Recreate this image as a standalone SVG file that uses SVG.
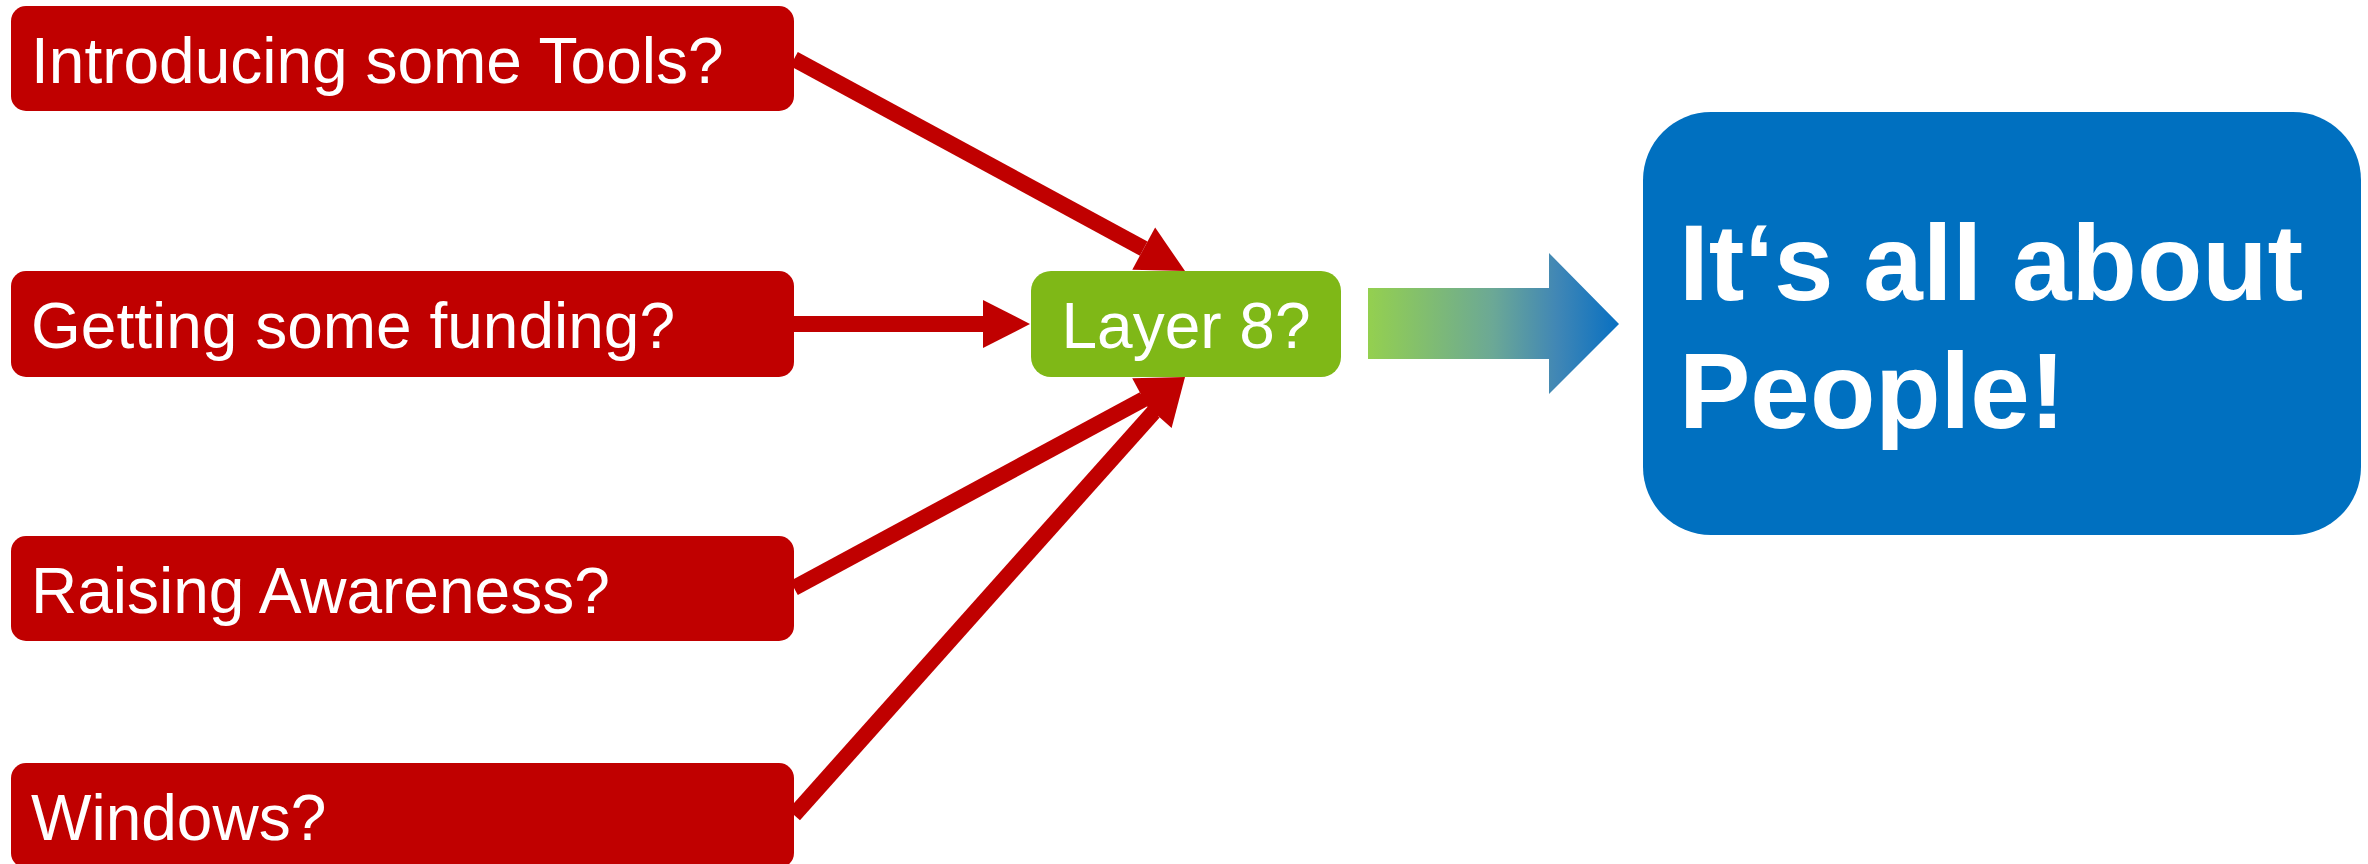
<svg xmlns="http://www.w3.org/2000/svg" width="2368" height="864" viewBox="0 0 2368 864">
  <style>
    .red { fill: #C00000; }
    .lbl { font-family: "Liberation Sans", Arial, sans-serif; font-size: 64px; fill: #FFFFFF; }
    .conn { stroke: #C00000; stroke-width: 16; fill: none; stroke-linecap: butt; }
    .big { font-family: "Liberation Sans", Arial, sans-serif; font-size: 107px; font-weight: bold; fill: #FFFFFF; }
  </style>
  <defs>
    <marker id="ah" markerUnits="userSpaceOnUse" markerWidth="47" markerHeight="48" refX="0" refY="24" orient="auto" overflow="visible">
      <path d="M0,0 L47,24 L0,48 Z" fill="#C00000"/>
    </marker>
    <linearGradient id="grad" gradientUnits="userSpaceOnUse" x1="1368" y1="0" x2="1619" y2="0">
      <stop offset="0" stop-color="#94D04F"/>
      <stop offset="0.5" stop-color="#6BA896"/>
      <stop offset="0.75" stop-color="#4187B5"/>
      <stop offset="1" stop-color="#0870C2"/>
    </linearGradient>
  </defs>
  <rect width="2368" height="864" fill="#FFFFFF"/>

  <g id="connectors">
    <line class="conn" x1="794" y1="59" x2="1143.7" y2="248.6" marker-end="url(#ah)"/>
    <line class="conn" x1="794" y1="324" x2="983" y2="324" marker-end="url(#ah)"/>
    <line class="conn" x1="794" y1="588" x2="1143.6" y2="399.3" marker-end="url(#ah)"/>
    <line class="conn" x1="794" y1="815" x2="1153.7" y2="412.1" marker-end="url(#ah)"/>
  </g>

  <g id="node-tools">
    <rect class="red" x="11" y="6" width="783" height="105" rx="15" ry="15"/>
    <text class="lbl" x="31" y="83">Introducing some Tools?</text>
  </g>
  <g id="node-funding">
    <rect class="red" x="11" y="271" width="783" height="106" rx="15" ry="15"/>
    <text class="lbl" x="31" y="348">Getting some funding?</text>
  </g>
  <g id="node-awareness">
    <rect class="red" x="11" y="536" width="783" height="105" rx="15" ry="15"/>
    <text class="lbl" x="31" y="613">Raising Awareness?</text>
  </g>
  <g id="node-windows">
    <rect class="red" x="11" y="763" width="783" height="105" rx="15" ry="15"/>
    <text class="lbl" x="31" y="840">Windows?</text>
  </g>

  <g id="node-layer8">
    <rect x="1031" y="271" width="310" height="106" rx="20" ry="20" fill="#7FB817"/>
    <text class="lbl" x="1186" y="348" text-anchor="middle">Layer 8?</text>
  </g>

  <g id="big-arrow">
    <polygon points="1368,288 1549,288 1549,253 1619,324 1549,394 1549,359 1368,359" fill="url(#grad)"/>
  </g>

  <g id="node-people">
    <rect x="1643" y="112" width="718" height="423" rx="68" ry="68" fill="#0070C0"/>
    <text class="big" x="1679" y="300">It‘s all about</text>
    <text class="big" x="1679" y="428">People!</text>
  </g>
</svg>
